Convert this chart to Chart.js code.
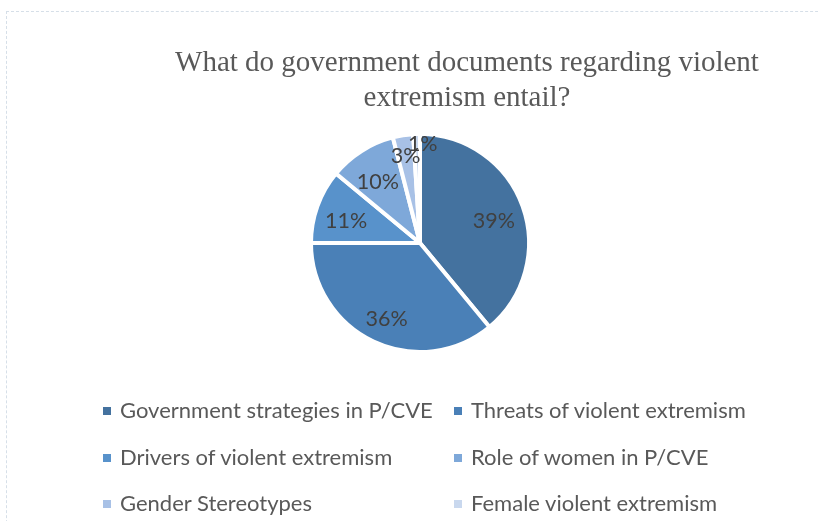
<!DOCTYPE html>
<html>
<head>
<meta charset="utf-8">
<script src="https://cdn.jsdelivr.net/npm/chart.js@4"></script>
<style>
    html, body { margin: 0; padding: 0; background: #fff; }
    #wrap { position: relative; width: 818px; height: 521px; overflow: hidden; }
    #frame { position: absolute; left: 6px; top: 11px; width: 900px; height: 600px; border: 1px dashed #d6dfe8; }
    #chartDocs { position: absolute; left: 0; top: 0; }
    #titulo { position: absolute; left: 117px; width: 700px; top: 44px; text-align: center;
        font-family: "Liberation Serif", serif; font-size: 29px; line-height: 35px; color: #595959; }
    #leyenda { position: absolute; left: 0; top: 0; width: 818px; height: 521px; pointer-events: none; }
    #leyenda .item { position: absolute; font-family: Lato, sans-serif; font-size: 22px; color: #595959;
        white-space: nowrap; line-height: 24px; }
    #leyenda .caja { position: absolute; width: 8px; height: 8px; top: 9px; left: -17px; }
</style>
</head>
<body>
<div id="wrap">
    <div id="frame"></div>
    <canvas id="chartDocs" width="818" height="521"></canvas>
    <div id="titulo"></div>
    <div id="leyenda"></div>
</div>
<script>
const tituloLineas = ['What do government documents regarding violent', 'extremism entail?'];
const categorias = [
    'Government strategies in P/CVE',
    'Threats of violent extremism',
    'Drivers of violent extremism',
    'Role of women in P/CVE',
    'Gender Stereotypes',
    'Female violent extremism'
];
const porcentajes = [39, 36, 11, 10, 3, 1];
const colores = ['#44729f', '#4a80b7', '#5892cb', '#7ea8d9', '#a8c1e6', '#c9d8ee'];

document.getElementById('titulo').innerHTML = tituloLineas.join('<br>');

// etiquetas de porcentaje dentro de cada porción (las pequeñas van más afuera)
const etiquetasPlugin = {
    id: 'etiquetas',
    afterDatasetsDraw(chart) {
        const ctx = chart.ctx;
        const meta = chart.getDatasetMeta(0);
        ctx.save();
        ctx.font = '21.5px Lato, sans-serif';
        ctx.fillStyle = '#404040';
        ctx.textAlign = 'center';
        ctx.textBaseline = 'middle';
        meta.data.forEach((arc, i) => {
            const p = arc.getProps(['x', 'y', 'startAngle', 'endAngle', 'outerRadius'], true);
            const ang = (p.startAngle + p.endAngle) / 2;
            const v = porcentajes[i];
            const frac = v < 2 ? 0.95 : (v < 5 ? 0.85 : 0.72);
            const r = p.outerRadius * frac;
            const dx = v < 2 ? 6 : 0;
            ctx.fillText(v + '%', p.x + Math.cos(ang) * r + dx, p.y + Math.sin(ang) * r + 5);
        });
        ctx.restore();
    }
};

const ctx = document.getElementById('chartDocs');
const chartDocs = new Chart(ctx, {
    type: 'pie',
    data: {
        labels: categorias,
        datasets: [{
            data: porcentajes,
            backgroundColor: colores,
            borderColor: '#fff',
            borderWidth: 4,
            hoverOffset: 0
        }]
    },
    options: {
        responsive: false,
        animation: false,
        layout: {
            padding: { top: 132, bottom: 167, left: 22, right: 0 }
        },
        plugins: {
            legend: { display: false },
            tooltip: { enabled: false }
        }
    },
    plugins: [etiquetasPlugin]
});

// leyenda en dos columnas
const leyenda = document.getElementById('leyenda');
const columnasX = [120, 471];
const filasY = [398, 445, 491];
categorias.forEach((cat, i) => {
    const item = document.createElement('div');
    item.className = 'item';
    item.style.left = columnasX[i % 2] + 'px';
    item.style.top = filasY[Math.floor(i / 2)] + 'px';
    item.textContent = cat;
    const caja = document.createElement('span');
    caja.className = 'caja';
    caja.style.background = colores[i];
    item.appendChild(caja);
    leyenda.appendChild(item);
});
</script>
</body>
</html>
